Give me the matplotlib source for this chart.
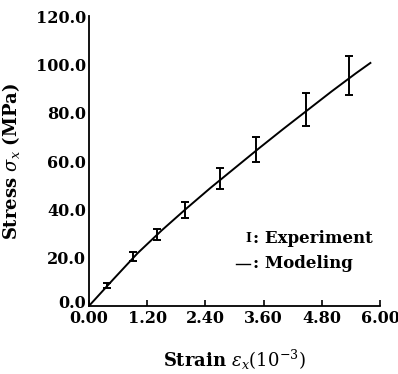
import matplotlib
matplotlib.use("Agg")
import matplotlib.pyplot as plt
from matplotlib.transforms import ScaledTranslation

# experiment points (strain 1e-3, stress MPa) with error bars
exp_strain = [0.37, 0.91, 1.40, 1.98, 2.70, 3.44, 4.47, 5.36]
exp_stress = [8.3, 20.5, 29.5, 39.6, 52.6, 64.9, 81.4, 95.5]
exp_err = [1.0, 1.8, 2.2, 3.3, 4.3, 5.2, 6.9, 8.0]

# modeling curve
model_strain = [0.0, 0.5, 1.0, 1.5, 2.0, 2.5, 3.0, 3.5, 4.0, 4.5, 5.0, 5.5, 5.8]
model_stress = [0.0, 11.0, 21.8, 31.3, 40.2, 48.8, 57.0, 65.2, 73.2, 81.0, 88.8, 96.3, 100.6]

xticks = [0.0, 1.2, 2.4, 3.6, 4.8, 6.0]
yticks = [0, 20, 40, 60, 80, 100, 120]

plt.rcParams['font.family'] = ['DejaVu Serif']
plt.rcParams['mathtext.fontset'] = 'dejavuserif'

fig = plt.figure(figsize=(3.98, 3.74), dpi=100)
ax = fig.add_axes([0.2236, 0.182, 0.7314, 0.775])

ax.plot(model_strain, model_stress, color='black', lw=1.4)
ax.errorbar(exp_strain, exp_stress, yerr=exp_err, fmt='none', ecolor='black',
            elinewidth=1.4, capsize=3, capthick=1.4)

ax.set_xlim(0, 6.0)
ax.set_ylim(0, 120)
ax.set_xticks(xticks)
ax.set_xticklabels(['%.2f' % v for v in xticks])
ax.set_yticks(yticks)
ax.set_yticklabels(['%.1f' % v for v in yticks])

for s in ['top', 'right']:
    ax.spines[s].set_visible(False)
for s in ['left', 'bottom']:
    ax.spines[s].set_linewidth(1.3)

ax.tick_params(axis='x', direction='in', length=4, width=1.2, pad=3, labelsize=11.5)
ax.tick_params(axis='y', length=0, pad=2, labelsize=11.5)
for lab in ax.get_xticklabels() + ax.get_yticklabels():
    lab.set_fontweight('bold')
# lift the "0.0" a little so it clears the "0.00" below it
zero_lab = ax.get_yticklabels()[0]
zero_lab.set_transform(zero_lab.get_transform() + ScaledTranslation(0, 3 / 72, fig.dpi_scale_trans))

ax.set_xlabel(r'Strain $\epsilon_x(10^{-3})$', fontsize=13, fontweight='bold', labelpad=15)
ax.set_ylabel(r'Stress $\sigma_x$ (MPa)', fontsize=13, fontweight='bold', labelpad=10)

# hand-drawn legend
ax.text(0.548, 0.234, 'I', transform=ax.transAxes, fontsize=9, fontweight='bold',
        va='center', ha='center')
ax.text(0.562, 0.234, ': Experiment', transform=ax.transAxes, fontsize=12,
        fontweight='bold', va='center', ha='left')
ax.plot([0.505, 0.553], [0.145, 0.145], transform=ax.transAxes, color='black', lw=1.0)
ax.text(0.562, 0.145, ': Modeling', transform=ax.transAxes, fontsize=12,
        fontweight='bold', va='center', ha='left')

fig.savefig('out.png', dpi=100)
